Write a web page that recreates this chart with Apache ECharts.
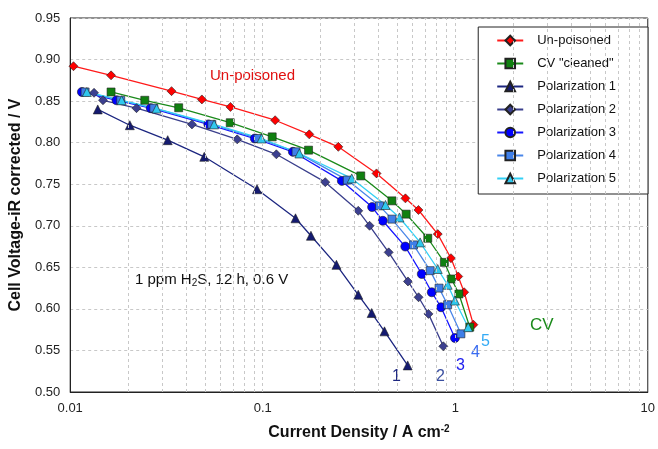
<!DOCTYPE html>
<html>
<head>
<meta charset="utf-8">
<script src="https://cdn.jsdelivr.net/npm/echarts@6/dist/echarts.min.js"></script>
<style>
  html, body { margin: 0; padding: 0; background: #fff; }
  #chart { width: 658px; height: 449px; }
</style>
</head>
<body>
<div id="chart"></div>
<script>
// [current density (A cm-2), cell voltage (V)]
const unPoisoned = [[0.0104,0.892],[0.0163,0.881],[0.0336,0.862],[0.0483,0.852],[0.068,0.843],[0.116,0.827],[0.1745,0.810],[0.247,0.795],[0.39,0.763],[0.551,0.733],[0.644,0.719],[0.811,0.690],[0.95,0.661],[1.036,0.639],[1.113,0.620],[1.242,0.581]]
const cvCleaned = [[0.0163,0.861],[0.0244,0.851],[0.0366,0.842],[0.0678,0.824],[0.112,0.807],[0.173,0.791],[0.323,0.760],[0.469,0.730],[0.556,0.714],[0.72,0.685],[0.878,0.656],[0.957,0.636],[1.045,0.618],[1.19,0.578]]
const pol1 = [[0.0139,0.840],[0.0204,0.821],[0.0321,0.803],[0.0497,0.783],[0.0934,0.744],[0.148,0.709],[0.178,0.688],[0.2415,0.653],[0.3135,0.617],[0.368,0.595],[0.429,0.573],[0.566,0.532]]
const pol2 = [[0.0133,0.860],[0.0148,0.851],[0.0221,0.8415],[0.0429,0.822],[0.0737,0.804],[0.1177,0.786],[0.2113,0.7525],[0.3135,0.718],[0.359,0.700],[0.451,0.668],[0.568,0.633],[0.645,0.614],[0.726,0.594],[0.867,0.555]]
const pol3 = [[0.0115,0.861],[0.0174,0.851],[0.0262,0.8415],[0.0522,0.822],[0.091,0.805],[0.1434,0.789],[0.2576,0.754],[0.370,0.7225],[0.4205,0.706],[0.550,0.675],[0.670,0.642],[0.755,0.620],[0.844,0.602],[0.9965,0.565]]
const pol4 = [[0.01195,0.861],[0.0183,0.851],[0.0272,0.8415],[0.0544,0.822],[0.0946,0.805],[0.149,0.789],[0.275,0.755],[0.4045,0.724],[0.469,0.708],[0.607,0.677],[0.741,0.646],[0.824,0.625],[0.913,0.605],[1.07,0.570]]
const pol5 = [[0.0122,0.861],[0.0185,0.851],[0.0281,0.841],[0.0559,0.822],[0.0985,0.805],[0.155,0.787],[0.29,0.757],[0.434,0.725],[0.513,0.710],[0.657,0.680],[0.811,0.648],[0.913,0.629],[0.996,0.610],[1.167,0.578]]

// minor decade positions for the dashed grid
const minorX = [0.02,0.03,0.04,0.05,0.06,0.07,0.08,0.09,0.1,0.2,0.3,0.4,0.5,0.6,0.7,0.8,0.9,1,2,3,4,5,6,7,8,9]

const font = 'Liberation Sans, Arial, sans-serif'

function line(name, data, color, symbol, fill, size) {
  return {
    name: name,
    type: 'line',
    data: data,
    symbol: symbol,
    symbolSize: size || 8,
    showSymbol: true,
    lineStyle: { color: color, width: 1.3 },
    itemStyle: { color: fill || color, borderColor: '#222', borderWidth: 0.6 },
    z: 3,
  }
}

let myChart = echarts.init(document.getElementById('chart'))
let option = {
  animation: false,
  textStyle: { fontFamily: font },
  grid: {
    left: 69,
    right: 8,
    top: 18,
    bottom: 57,
    show: true,
    borderColor: '#222',
    borderWidth: 1,
  },
  legend: {
    orient: 'vertical',
    right: 10,
    top: 27,
    padding: [7, 32, 9, 18],
    itemGap: 10,
    itemWidth: 26,
    itemHeight: 12,
    borderColor: '#222',
    borderWidth: 1,
    backgroundColor: '#fff',
    textStyle: { fontSize: 13, color: '#111', fontFamily: font, padding: [0, 0, 0, 9] },
  },
  xAxis: {
    type: 'log',
    logBase: 10,
    min: 0.01,
    max: 10,
    name: 'Current Density / A cm{sup|-2}',
    nameLocation: 'middle',
    nameGap: 32,
    nameTextStyle: {
      fontSize: 16,
      fontWeight: 'bold',
      color: '#111',
      fontFamily: font,
      rich: { sup: { fontSize: 10, fontWeight: 'bold', verticalAlign: 'top', padding: [0, 0, 8, 0] } },
    },
    axisLine: { onZero: false, lineStyle: { color: '#222' } },
    axisTick: { show: false },
    axisLabel: {
      fontSize: 13,
      color: '#222',
      margin: 10,
      formatter: function (v) { return String(v) },
    },
    splitLine: { show: false },
  },
  yAxis: {
    type: 'value',
    min: 0.5,
    max: 0.95,
    interval: 0.05,
    name: 'Cell Voltage-iR corrected / V',
    nameLocation: 'middle',
    nameGap: 44,
    nameTextStyle: { fontSize: 16, fontWeight: 'bold', color: '#111', fontFamily: font },
    axisLine: { show: true, lineStyle: { color: '#222' } },
    axisTick: { show: false },
    axisLabel: {
      fontSize: 13,
      color: '#222',
      margin: 10,
      formatter: function (v) { return v.toFixed(2) },
    },
    splitLine: { show: true, lineStyle: { color: '#c8c8c8', type: [3, 3] } },
  },
  series: [
    line('Un-poisoned', unPoisoned, '#ff1a1a', 'diamond', '#ff0000', 9),
    line('CV "cleaned"', cvCleaned, '#1a8a1a', 'rect', '#108010', 8),
    line('Polarization 1', pol1, '#1c2680', 'triangle', '#141a70', 9),
    line('Polarization 2', pol2, '#3a3f8c', 'diamond', '#3c4090', 9),
    line('Polarization 3', pol3, '#1515ff', 'circle', '#0000ff', 9),
    line('Polarization 4', pol4, '#4a86e8', 'rect', '#3f7fe8', 8),
    line('Polarization 5', pol5, '#33d0f5', 'triangle', '#30c8ee', 9),
    {
      name: 'grid',
      type: 'scatter',
      data: [[0.01, 0.5]],
      symbolSize: 0,
      silent: true,
      z: 1,
      markLine: {
        symbol: 'none',
        silent: true,
        animation: false,
        label: { show: false },
        lineStyle: { color: '#c8c8c8', type: [3, 3], width: 1 },
        data: minorX.map(function (v) { return { xAxis: v } }),
      },
    },
  ],
  graphic: [
    { type: 'text', left: 210, top: 68, style: { text: 'Un-poisoned', fill: '#e01010', font: '15px ' + font } },
    {
      type: 'text', left: 135, top: 272,
      style: {
        text: '1 ppm H{sub|2}S, 12 h, 0.6 V',
        fill: '#111',
        font: '15px ' + font,
        rich: { sub: { fontSize: 10, verticalAlign: 'bottom', padding: [8, 0, 0, 0] } },
      },
    },
    { type: 'text', left: 392, top: 369, style: { text: '1', fill: '#1c2680', font: '16px ' + font } },
    { type: 'text', left: 436, top: 369, style: { text: '2', fill: '#3a4fa0', font: '16px ' + font } },
    { type: 'text', left: 456, top: 358, style: { text: '3', fill: '#2020ee', font: '16px ' + font } },
    { type: 'text', left: 471, top: 345, style: { text: '4', fill: '#3a6cf0', font: '16px ' + font } },
    { type: 'text', left: 481, top: 334, style: { text: '5', fill: '#33aaf5', font: '16px ' + font } },
    { type: 'text', left: 530, top: 317, style: { text: 'CV', fill: '#1a8a1a', font: '17px ' + font } },
  ],
}
option.legend.data = option.series.slice(0, 7).map(function (s) { return s.name })
myChart.setOption(option)
window.addEventListener('resize', () => {
  myChart.resize()
})
</script>
</body>
</html>
